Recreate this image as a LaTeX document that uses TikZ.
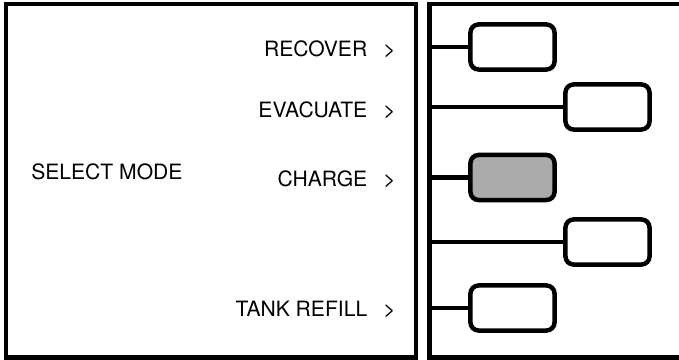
\documentclass[tikz,border=0pt]{standalone}
\usepackage{fontspec}
\setmainfont{TeX Gyre Heros}
\definecolor{selgray}{HTML}{ABABAB}
\begin{document}
\begin{tikzpicture}[x=0.025cm,y=-0.025cm]
\tikzstyle{bx} = [draw=black,line width=3.2pt,rounded corners=0.2cm,minimum width=2.1cm,minimum height=1.125cm,inner sep=0pt] %box
\tikzstyle{fr} = [line width=3.2pt] %frame
\tikzstyle{ce} = [-,line width=3.2pt] %connecting edge
\tikzstyle{lb} = [inner sep=0pt,font=\fontsize{15}{18}\selectfont] %label
\useasboundingbox (0,0) rectangle (679,360);
\draw[fr](6,4)rectangle(416,357.5);
\draw[fr](683,4)-|(429.5,357.5)--(683,357.5);
\node[lb,anchor=west](lm)at(31,172){SELECT MODE};
\node[lb,anchor=east](la)at(396,49){RECOVER\hspace{11.5pt}>};
\node[lb,anchor=east](lb)at(396,110){EVACUATE\hspace{11.5pt}>};
\node[lb,anchor=east](lc)at(396,179){CHARGE\hspace{11.5pt}>};
\node[lb,anchor=east](ld)at(396,310){TANK REFILL\hspace{11.5pt}>};
\node[bx](ba)at(512.5,47){};
\node[bx](bb)at(607.5,107){};
\node[bx,fill=selgray](bc)at(512.5,177.5){};
\node[bx](bd)at(607.5,242){};
\node[bx](be)at(512.5,308){};
\coordinate(sa)at(429.5,47);
\coordinate(sb)at(429.5,107);
\coordinate(sc)at(429.5,177.5);
\coordinate(sd)at(429.5,242);
\coordinate(se)at(429.5,308);
\draw[ce](sa)--(ba);
\draw[ce](sb)--(bb);
\draw[ce](sc)--(bc);
\draw[ce](sd)--(bd);
\draw[ce](se)--(be);
\end{tikzpicture}
\end{document}
